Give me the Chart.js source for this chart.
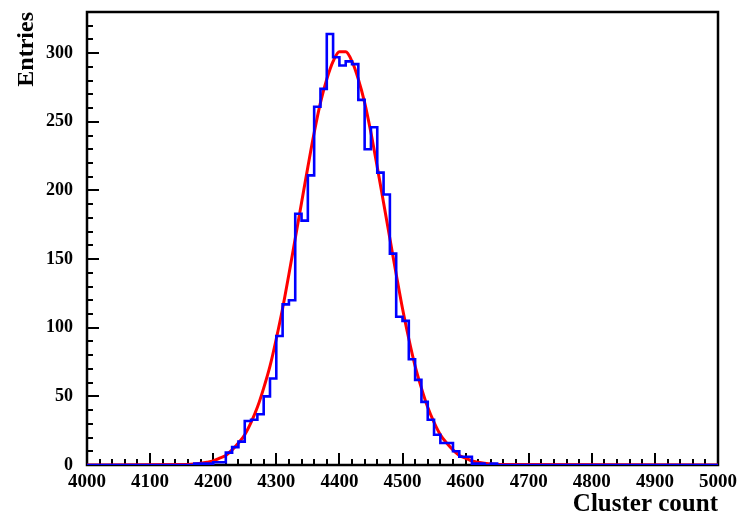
<!DOCTYPE html>
<html>
<head>
<meta charset="utf-8">
<script src="https://cdn.jsdelivr.net/npm/chart.js@4.4.1/dist/chart.umd.min.js"></script>
<style>
  html, body { margin: 0; padding: 0; background: #fff; }
</style>
</head>
<body>
<canvas id="histChart" width="738" height="517"></canvas>
<script>
// histogram: bins of 10 starting at 4000
var binStart = 4000;
var binWidth = 10;
var counts = [
  0, 0, 0, 0, 0, 0, 0, 0, 0, 0,
  0, 0, 0, 0, 0, 0, 0, 1, 1, 1,
  2, 2, 9, 13, 17, 32, 33, 37, 50, 63,
  94, 117, 120, 183, 178, 211, 261, 274, 314, 297,
  291, 294, 292, 266, 230, 246, 213, 197, 154, 108,
  105, 77, 62, 46, 33, 22, 16, 16, 10, 6,
  6, 1, 1, 0, 1, 0, 0, 0, 0, 0,
  0, 0, 0, 0, 0, 0, 0, 0, 0, 0,
  0, 0, 0, 0, 0, 0, 0, 0, 0, 0,
  0, 0, 0, 0, 0, 0, 0, 0, 0, 0
];

// gaussian fit curve
var fitX = [4000, 4150, 4170, 4190, 4200, 4210, 4220, 4230, 4240, 4250, 4260, 4270, 4280, 4290,
  4300, 4310, 4320, 4330, 4340, 4350, 4360, 4370, 4380, 4390, 4400, 4410, 4420, 4430, 4440,
  4450, 4460, 4470, 4480, 4490, 4500, 4510, 4520, 4530, 4540, 4550, 4560, 4570, 4580, 4590,
  4600, 4610, 4620, 4640, 4660, 5000];
var fitY = [0, 0.3, 0.8, 2, 3, 5, 7, 11, 16, 22, 31, 42, 56, 72,
  92, 114, 139, 165, 191, 217, 242, 264, 281, 294, 301, 301, 294, 281, 264,
  242, 217, 191, 165, 139, 114, 92, 72, 56, 42, 31, 22, 16, 11, 7,
  5, 3, 2, 0.8, 0.3, 0];

var xTicks = [4000, 4100, 4200, 4300, 4400, 4500, 4600, 4700, 4800, 4900, 5000];
var yTicks = [0, 50, 100, 150, 200, 250, 300];

var histPoints = counts.map(function (c, i) {
  return { x: binStart + i * binWidth, y: c };
});
histPoints.push({ x: binStart + counts.length * binWidth, y: counts[counts.length - 1] });

var fitPoints = fitX.map(function (x, i) {
  return { x: x, y: fitY[i] };
});

// frame + inner ticks like the ROOT style
var framePlugin = {
  id: 'frame',
  beforeDatasetsDraw: function (chart) {
    var ctx = chart.ctx, a = chart.chartArea;
    var xs = chart.scales.x, ys = chart.scales.y;
    ctx.save();
    ctx.strokeStyle = '#000';
    ctx.lineWidth = 2;
    for (var v = 0; v <= ys.max; v += 10) {
      var py = Math.round(ys.getPixelForValue(v));
      var len = (v % 50 === 0) ? 12 : 6;
      ctx.beginPath();
      ctx.moveTo(a.left, py);
      ctx.lineTo(a.left + len, py);
      ctx.stroke();
    }
    for (var u = xs.min; u <= xs.max; u += 20) {
      var px = Math.round(xs.getPixelForValue(u));
      var l2 = (u % 100 === 0) ? 12 : 6;
      ctx.beginPath();
      ctx.moveTo(px, a.bottom);
      ctx.lineTo(px, a.bottom - l2);
      ctx.stroke();
    }
    ctx.lineWidth = 2.5;
    ctx.strokeRect(a.left, a.top, a.right - a.left, a.bottom - a.top);
    ctx.restore();
  }
};

function noPad(s) {
  s.paddingTop = 0;
  s.paddingBottom = 0;
  s.paddingLeft = 0;
  s.paddingRight = 0;
}

var ctx = document.getElementById('histChart').getContext('2d');
var histChart = new Chart(ctx, {
  type: 'line',
  data: {
    datasets: [{
      label: 'Entries',
      data: histPoints,
      stepped: true,
      borderColor: '#0000ff',
      borderWidth: 2.6,
      pointRadius: 0,
      fill: false
    }, {
      label: 'Fit',
      data: fitPoints,
      borderColor: '#ff0000',
      borderWidth: 3,
      pointRadius: 0,
      cubicInterpolationMode: 'monotone',
      fill: false
    }]
  },
  options: {
    responsive: false,
    animation: false,
    layout: { padding: { left: 0, top: 12, right: 20, bottom: 0 } },
    plugins: {
      legend: { display: false },
      tooltip: { enabled: false }
    },
    scales: {
      x: {
        type: 'linear',
        min: 4000,
        max: 5000,
        grid: { display: false, drawTicks: false },
        border: { display: false },
        afterBuildTicks: function (s) { s.ticks = xTicks.map(function (v) { return { value: v }; }); },
        afterFit: function (s) { s.height = 52; noPad(s); },
        ticks: {
          padding: 6,
          maxRotation: 0,
          color: '#000',
          callback: function (v) { return String(v); },
          font: { family: 'Liberation Serif', size: 19, weight: 'bold' }
        },
        title: {
          display: true,
          text: 'Cluster count',
          align: 'end',
          color: '#000',
          padding: { top: 0, bottom: 0 },
          font: { family: 'Liberation Serif', size: 25, weight: 'bold', lineHeight: 1 }
        }
      },
      y: {
        min: 0,
        max: 330,
        grid: { display: false, drawTicks: false },
        border: { display: false },
        afterBuildTicks: function (s) { s.ticks = yTicks.map(function (v) { return { value: v }; }); },
        afterFit: function (s) { s.width = 87; noPad(s); },
        ticks: {
          padding: 14,
          color: '#000',
          callback: function (v) { return String(v); },
          font: { family: 'Liberation Serif', size: 18, weight: 'bold' }
        },
        title: {
          display: true,
          text: 'Entries',
          align: 'end',
          color: '#000',
          padding: { top: 12, bottom: 0 },
          font: { family: 'Liberation Serif', size: 24, weight: 'bold' }
        }
      }
    }
  },
  plugins: [framePlugin]
});
</script>
</body>
</html>
